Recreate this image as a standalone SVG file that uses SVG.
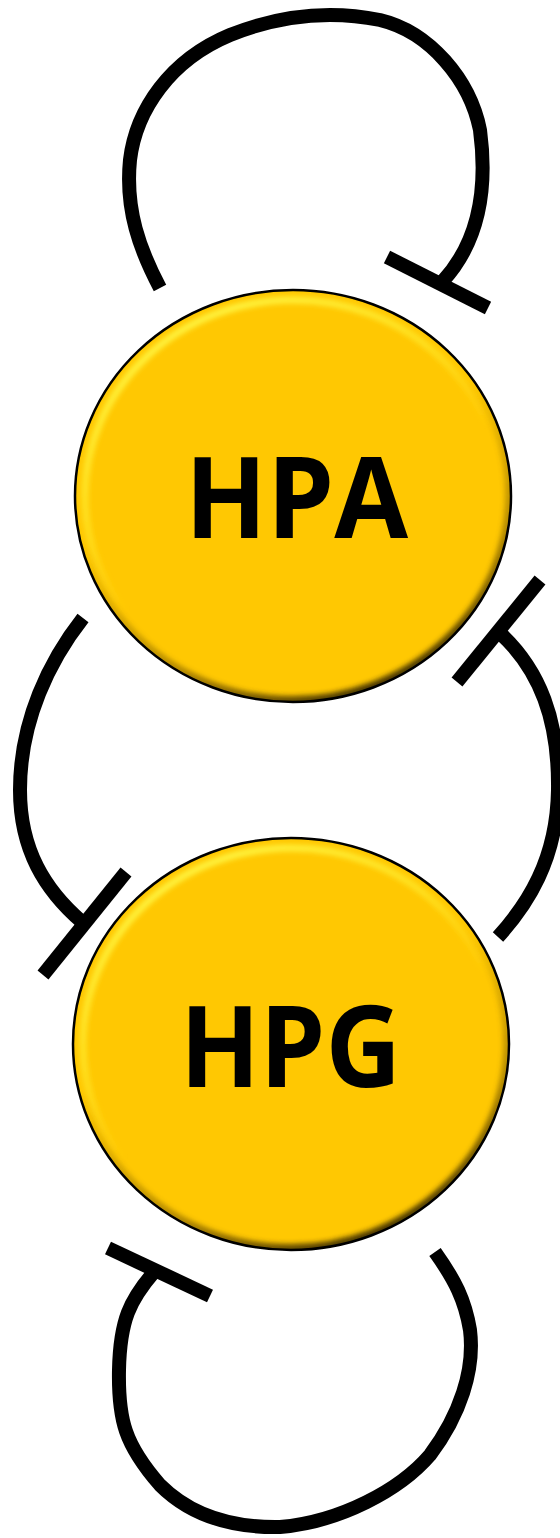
<svg xmlns="http://www.w3.org/2000/svg" width="560" height="1538" viewBox="0 0 560 1538">
<style>
.conn path, .conn line { fill: none; stroke: #000; stroke-width: 14; stroke-linecap: butt; stroke-linejoin: round; }
.base { fill: #FFC802; }
.hl { fill: none; stroke: url(#hlGrad); stroke-width: 7; filter: url(#blur); }
.sh { fill: none; stroke: url(#shGrad); stroke-width: 12; filter: url(#blur); }
.rim { fill: none; stroke: #000; stroke-width: 2.5; }
.lbl { font-family: "Open Sans", "Liberation Sans", sans-serif; font-weight: 700; font-size: 113px; fill: #000; }
</style>
<defs>
<filter id="blur" x="-10%" y="-10%" width="120%" height="120%"><feGaussianBlur stdDeviation="2.5"/></filter>
<linearGradient id="hlGrad" x1="0.25" y1="0" x2="0.55" y2="0.55">
<stop offset="0" stop-color="#FFF542" stop-opacity="1"/>
<stop offset="0.6" stop-color="#FFEE30" stop-opacity="0.6"/>
<stop offset="1" stop-color="#FFEE30" stop-opacity="0"/>
</linearGradient>
<linearGradient id="shGrad" x1="0.4" y1="0.45" x2="0.65" y2="1">
<stop offset="0" stop-color="#6b4e00" stop-opacity="0"/>
<stop offset="0.6" stop-color="#6b4e00" stop-opacity="0.5"/>
<stop offset="1" stop-color="#2a1e00" stop-opacity="0.9"/>
</linearGradient>
<clipPath id="clipE" clipPathUnits="objectBoundingBox"><ellipse cx="0.5" cy="0.5" rx="0.5" ry="0.5"/></clipPath>
</defs>

<g id="hpa">
<g clip-path="url(#clipE)">
<ellipse class="base" cx="293" cy="496" rx="218" ry="206"/>
<ellipse class="hl" cx="293" cy="496" rx="208" ry="196"/>
<ellipse class="sh" cx="293" cy="496" rx="218" ry="206"/>
</g>
<ellipse class="rim" cx="293" cy="496" rx="218" ry="206"/>
<text class="lbl" x="185" y="538" textLength="223" lengthAdjust="spacingAndGlyphs">HPA</text>
</g>

<g id="hpg">
<g clip-path="url(#clipE)">
<ellipse class="base" cx="291" cy="1044" rx="218" ry="206"/>
<ellipse class="hl" cx="291" cy="1044" rx="208" ry="196"/>
<ellipse class="sh" cx="291" cy="1044" rx="218" ry="206"/>
</g>
<ellipse class="rim" cx="291" cy="1044" rx="218" ry="206"/>
<text class="lbl" x="180" y="1087" textLength="221" lengthAdjust="spacingAndGlyphs">HPG</text>
</g>

<g id="connectors" class="conn">
<path d="M160,288 C140,250 125,210 130,160 C136,110 170,60 230,35 C280,15 330,10 380,20 C430,32 470,80 480,130 C486,175 485,235 443,281"/>
<line x1="387" y1="257" x2="488" y2="308"/>
<path d="M498,937 C527,905 557,860 558,790 C559,720 540,670 500,633"/>
<line x1="540" y1="580" x2="457" y2="682"/>
<path d="M83,618 C50,660 20,720 20,790 C20,850 45,890 82,922"/>
<line x1="126" y1="872" x2="43" y2="975"/>
<path d="M435,1252 C455,1280 465,1300 470,1330 C475,1370 460,1415 430,1455 C400,1490 340,1522 280,1527 C230,1528 190,1515 160,1485 C125,1445 118,1420 119,1370 C120,1320 130,1300 154,1272"/>
<line x1="108" y1="1248" x2="210" y2="1296"/>
</g>
</svg>
